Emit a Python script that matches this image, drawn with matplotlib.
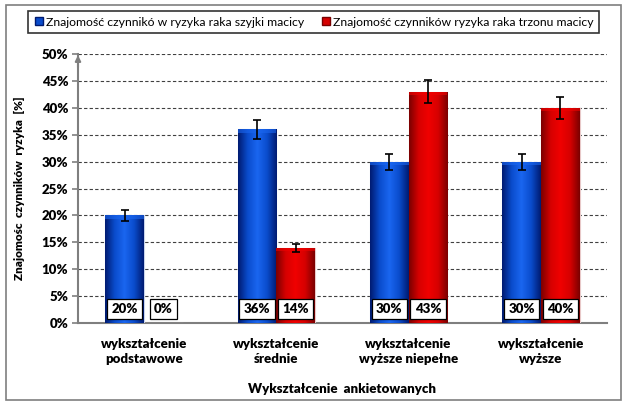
import matplotlib
matplotlib.use("Agg")
import matplotlib.pyplot as plt
import numpy as np
from matplotlib.patches import Rectangle

categories = ["wykształcenie\npodstawowe", "wykształcenie\nśrednie",
              "wykształcenie\nwyższe niepełne", "wykształcenie\nwyższe"]
series_names = ["Znajomość czynnikó w ryzyka raka szyjki macicy",
                "Znajomość czynników ryzyka raka trzonu macicy"]
szyjka = [20, 36, 30, 30]
trzon = [0, 14, 43, 40]
szyjka_err = [1.0, 1.8, 1.5, 1.5]
trzon_err = [0.0, 0.75, 2.1, 2.1]
yticks = [0, 5, 10, 15, 20, 25, 30, 35, 40, 45, 50]

plt.rcParams['font.family'] = ['Lato', 'DejaVu Sans']
BW = 'heavy'

fig = plt.figure(figsize=(6.28, 4.07), dpi=100)
fig.patches.append(Rectangle((6/628, 1-400/407), 615/628, 395/407, transform=fig.transFigure,
                             fill=False, edgecolor='#7f7f7f', linewidth=1.2))

ax = fig.add_axes([78/628, 1-323/407, 529/628, 269/407])
x = np.arange(len(categories))
w = 0.293

def grad_bar(ax, bars, c_edge, c_mid, c_hi):
    from matplotlib.colors import LinearSegmentedColormap
    cmap = LinearSegmentedColormap.from_list('g', [c_edge, c_mid, c_hi, c_mid, c_edge])
    grad = np.linspace(0, 1, 256).reshape(1, -1)
    for b in bars:
        h = b.get_height()
        if h <= 0:
            continue
        x0 = b.get_x(); bw = b.get_width()
        im = ax.imshow(grad, extent=[x0, x0 + bw, 0, h], aspect='auto', cmap=cmap,
                       zorder=b.get_zorder(), origin='lower')
        im.set_clip_path(b)
        ax.add_patch(Rectangle((x0, h - 0.6), bw, 0.6, facecolor=c_hi, alpha=0.6,
                               edgecolor='none', zorder=b.get_zorder() + 0.1))

b1 = ax.bar(x - w/2, szyjka, w, color='#0a4ccc', edgecolor='#c8d4ec', linewidth=0.8, zorder=3)
b2 = ax.bar(x + w/2, trzon, w, color='#d60000', edgecolor='#e8c8c8', linewidth=0.8, zorder=3)
grad_bar(ax, b1, '#001a70', '#0a4ccc', '#1a66f0')
grad_bar(ax, b2, '#7a0000', '#d60000', '#f00000')

ax.errorbar(x - w/2, szyjka, yerr=szyjka_err, fmt='none', ecolor='black',
            elinewidth=1.2, capsize=3, capthick=1.2, zorder=5)
mask = np.array(trzon) > 0
ax.errorbar((x + w/2)[mask], np.array(trzon)[mask], yerr=np.array(trzon_err)[mask], fmt='none',
            ecolor='black', elinewidth=1.2, capsize=3, capthick=1.2, zorder=5)

for xs, vals in ((x - w/2, szyjka), (x + w/2, trzon)):
    for xi, v in zip(xs, vals):
        ax.text(xi, 2.6, f"{v}%", ha='center', va='center', fontsize=9.5, fontweight=BW, zorder=6,
                bbox=dict(boxstyle='square,pad=0.32', facecolor='white', edgecolor='black',
                          linewidth=0.9))

ax.set_xlim(-0.5, len(categories) - 0.5)
ax.set_ylim(0, 50)
ax.set_yticks(yticks)
ax.set_yticklabels([f"{t}%" for t in yticks], fontsize=9.5, fontweight=BW)
ax.set_xticks(x)
ax.set_xticklabels(categories, fontsize=9.5, fontweight=BW, linespacing=1.3)
ax.tick_params(axis='x', length=0, pad=11)
ax.tick_params(axis='y', length=4, color='#7f7f7f', width=1.2, pad=3)
ax.yaxis.grid(True, linestyle=(0, (3, 2)), color='#404040', linewidth=0.8, zorder=0)
ax.set_axisbelow(True)
for s in ['top', 'right']:
    ax.spines[s].set_visible(False)
ax.spines['left'].set_color('#7f7f7f')
ax.spines['left'].set_linewidth(1.5)
ax.spines['bottom'].set_color('#7f7f7f')
ax.spines['bottom'].set_linewidth(1.5)
ax.annotate('', xy=(-0.5, 50.3), xytext=(-0.5, 47), xycoords='data',
            arrowprops=dict(arrowstyle='-|>', color='#7f7f7f', lw=1.5, mutation_scale=8),
            annotation_clip=False)

ax.set_ylabel("Znajomośc  czynników  ryzyka  [%]", fontsize=8.5, fontweight=BW, labelpad=12)
fig.text((78 + 607) / 2 / 628, 1 - 389/407, "Wykształcenie  ankietowanych", ha='center',
         va='center', fontsize=9.5, fontweight=BW)

from matplotlib.lines import Line2D
handles = [Line2D([], [], marker='s', linestyle='none', markersize=6, markerfacecolor='#0a4ccc',
                  markeredgecolor='#001a70'),
           Line2D([], [], marker='s', linestyle='none', markersize=6, markerfacecolor='#d60000',
                  markeredgecolor='#7a0000')]
leg = fig.legend(handles, series_names, loc='center', bbox_to_anchor=((20 + 607) / 2 / 628, 1 - 22/407),
                 ncol=2, fontsize=8.8, frameon=True, fancybox=False, handletextpad=0.05,
                 columnspacing=1.3, borderpad=0.45, handlelength=1.0)
leg.get_frame().set_edgecolor('black')
leg.get_frame().set_linewidth(1.2)

fig.savefig("out.png", dpi=100)
